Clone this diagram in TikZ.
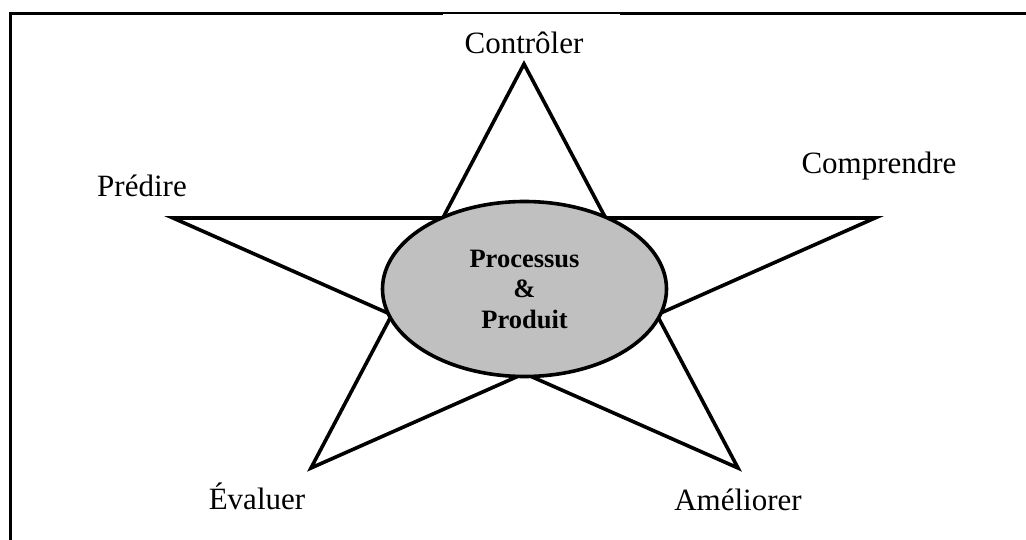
\documentclass[tikz,border=0pt]{standalone}
\usepackage{fontspec}
\setmainfont{Liberation Serif}
\usetikzlibrary{shapes.geometric}
\definecolor{corefill}{RGB}{192,192,192}
\begin{document}
\begin{tikzpicture}[x=1pt,y=-1pt,
  lbl/.style={font=\fontsize{31}{36}\selectfont, anchor=base, inner sep=0pt},
  starline/.style={line width=3.6pt, line join=miter},
  framel/.style={line width=3pt},
  core/.style={ellipse, draw, line width=3.6pt, fill=corefill, minimum width=284pt,
    minimum height=175pt, inner sep=0pt, align=center,
    font=\fontsize{26.5}{30.5}\selectfont\bfseries}]
\useasboundingbox (0,0) rectangle (1026,540);
% frame
\draw[framel, line join=miter] (10.5,540) -- (10.5,13.5) -- (443,13.5);
\draw[line width=1.7pt] (443,12.8) -- (620,12.8);
\draw[framel] (620,13.5) -- (1026,13.5);
% star
\coordinate (T) at (524,64);
\coordinate (UR) at (875,218);
\coordinate (LR) at (738,468);
\coordinate (LL) at (311,468);
\coordinate (UL) at (173,218);
\coordinate (I1) at (intersection of T--LR and UL--UR);
\coordinate (I2) at (intersection of UR--LL and T--LR);
\coordinate (I3) at (intersection of UL--LR and UR--LL);
\coordinate (I4) at (intersection of UL--LR and T--LL);
\coordinate (I5) at (intersection of T--LL and UL--UR);
\draw[starline] (T) -- (I1) -- (UR) -- (I2) -- (LR) -- (I3) -- (LL) -- (I4) -- (UL) -- (I5) -- cycle;
% centre
\node[core] (pp) at (524.5,289) {Processus\\\&\\Produit};
% labels
\node[lbl] (ctl) at (524,54) {Contrôler};
\node[lbl] (pre) at (142,197) {Prédire};
\node[lbl] (com) at (879,174) {Comprendre};
\node[lbl] (eva) at (257,509) {Évaluer};
\node[lbl] (ame) at (738,510) {Améliorer};
\end{tikzpicture}
\end{document}
